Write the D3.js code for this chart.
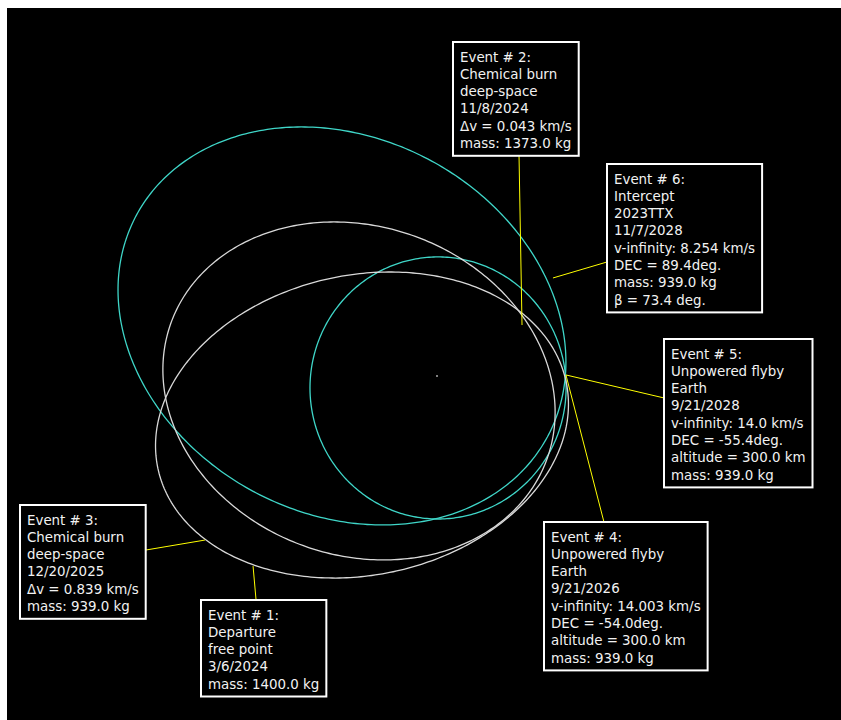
<!DOCTYPE html>
<html>
<head>
<meta charset="utf-8">
<script src="https://cdn.jsdelivr.net/npm/d3@7"></script>
<style>
  html, body { margin: 0; padding: 0; background: #ffffff; }
  svg { display: block; }
  .event-text { font-family: "DejaVu Sans", Verdana, sans-serif; font-size: 13.4px; fill: #f2f2f2; }
</style>
</head>
<body>
<svg id="chart" width="841" height="720"></svg>
<script>
// Orbits in AU (sun at origin, y up). tilt in degrees, counter-clockwise.
const orbitIds    = ['transfer-outer', 'transfer-inner', 'body-orbit-1', 'body-orbit-2'];
const orbitColors = ['#3fd6c8', '#3fd6c8', '#d9d9d9', '#d9d9d9'];
const orbitCx     = [-0.731, 0.008, -0.600, -0.577];
const orbitCy     = [0.385, -0.092, -0.115, -0.377];
const orbitA      = [1.796, 0.985, 1.538, 1.605];
const orbitB      = [1.444, 1.008, 1.265, 1.154];
const orbitTilt   = [-28.4, 0, -20, 12];

// Event markers (AU) and the label text for each
const eventX = [-1.415, 0.654, -1.785, 0.992, 0.992, 0.892];
const eventY = [-1.462, 0.392, -1.262, 0.008, 0.008, 0.754];
const eventLines = [
  ['Event # 1:', 'Departure', 'free point', '3/6/2024', 'mass: 1400.0 kg'],
  ['Event # 2:', 'Chemical burn', 'deep-space', '11/8/2024', '\u0394v = 0.043 km/s', 'mass: 1373.0 kg'],
  ['Event # 3:', 'Chemical burn', 'deep-space', '12/20/2025', '\u0394v = 0.839 km/s', 'mass: 939.0 kg'],
  ['Event # 4:', 'Unpowered flyby', 'Earth', '9/21/2026', 'v-infinity: 14.003 km/s', 'DEC = -54.0deg.', 'altitude = 300.0 km', 'mass: 939.0 kg'],
  ['Event # 5:', 'Unpowered flyby', 'Earth', '9/21/2028', 'v-infinity: 14.0 km/s', 'DEC = -55.4deg.', 'altitude = 300.0 km', 'mass: 939.0 kg'],
  ['Event # 6:', 'Intercept', '2023TTX', '11/7/2028', 'v-infinity: 8.254 km/s', 'DEC = 89.4deg.', 'mass: 939.0 kg', '\u03b2  = 73.4 deg.']
];

// label box placement (pixels)
const boxLeft = [201, 453, 20, 544, 664, 607];
const boxTop  = [600, 42, 505, 522, 339, 164];

const width = 841, height = 720;
const pxPerAU = 130;
const sun = [437, 376];

const x = d3.scaleLinear().domain([0, 1]).range([sun[0], sun[0] + pxPerAU]);
const y = d3.scaleLinear().domain([0, 1]).range([sun[1], sun[1] - pxPerAU]);

const svg = d3.select('#chart');

svg.append('rect')
  .attr('x', 7).attr('y', 8)
  .attr('width', width - 7).attr('height', height - 8)
  .attr('fill', '#000');

// build ellipse points for each orbit
const orbitPoints = orbitIds.map((id, i) => {
  const phi = orbitTilt[i] * Math.PI / 180;
  return d3.range(0, 361).map(deg => {
    const t = deg * Math.PI / 180;
    const ex = orbitA[i] * Math.cos(t), ey = orbitB[i] * Math.sin(t);
    return [orbitCx[i] + ex * Math.cos(phi) - ey * Math.sin(phi),
            orbitCy[i] + ex * Math.sin(phi) + ey * Math.cos(phi)];
  });
});

const line = d3.line().x(d => x(d[0])).y(d => y(d[1]));

svg.append('g').attr('class', 'orbits')
  .selectAll('path')
  .data(orbitIds)
  .join('path')
    .attr('d', (d, i) => line(orbitPoints[i]))
    .attr('fill', 'none')
    .attr('stroke', (d, i) => orbitColors[i])
    .attr('stroke-width', 1.3);

// sun
svg.append('circle')
  .attr('cx', x(0)).attr('cy', y(0)).attr('r', 1)
  .attr('fill', '#aaaaaa');

// label boxes
const lineH = 17.3;
const labels = svg.append('g').attr('class', 'labels');

eventLines.forEach((lines, i) => {
  const g = labels.append('g');
  const rect = g.append('rect')
    .attr('x', boxLeft[i]).attr('y', boxTop[i])
    .attr('fill', '#000')
    .attr('stroke', '#ffffff')
    .attr('stroke-width', 2);
  const txt = g.append('text').attr('class', 'event-text');
  lines.forEach((s, j) => {
    txt.append('tspan')
      .attr('x', boxLeft[i] + 7)
      .attr('y', boxTop[i] + 19.5 + j * lineH)
      .text(s);
  });
  const w = d3.max(txt.selectAll('tspan').nodes(), n => n.getComputedTextLength()) + 14;
  const h = lines.length * lineH + 10;
  rect.attr('width', w).attr('height', h);

  // leader: from event point to the nearest box edge
  const px = x(eventX[i]), py = y(eventY[i]);
  const bx0 = boxLeft[i], by0 = boxTop[i], bx1 = bx0 + w, by1 = by0 + h;
  let lx, ly;
  if (i === 3) { lx = px + 38; ly = by0; }
  else if (px < bx0) { lx = bx0; ly = Math.max(by0, Math.min(by1, py + (i === 4 ? 23 : -16))); }
  else if (px > bx1) { lx = bx1; ly = Math.max(by0, Math.min(by1, py + 10)); }
  else if (py < by0) { ly = by0; lx = px + 3; }
  else { ly = by1; lx = px - 3; }
  labels.insert('line', ':first-child')
    .attr('x1', px).attr('y1', py)
    .attr('x2', lx).attr('y2', ly)
    .attr('stroke', '#ffff00')
    .attr('stroke-width', 1);
});
</script>
</body>
</html>
